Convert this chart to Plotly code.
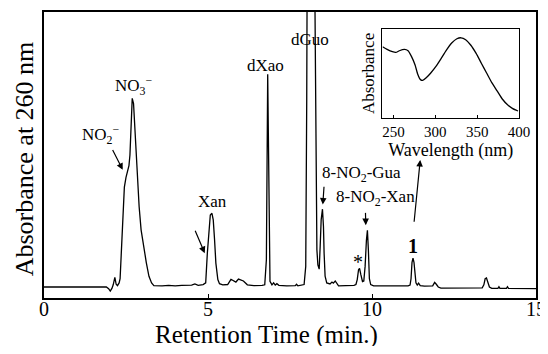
import plotly.graph_objects as go

# ---- main chromatogram (retention time in min, absorbance at 260 nm, arbitrary units) ----
rt_min = [0.00, 1.90, 1.97, 2.02, 2.07, 2.11, 2.16, 2.20, 2.24, 2.29, 2.32, 2.36, 2.39, 2.42,
          2.45, 2.50, 2.55, 2.59, 2.62, 2.64, 2.67, 2.69, 2.73, 2.76, 2.80, 2.85, 2.90, 2.96,
          3.03, 3.12, 3.20, 3.28, 3.35, 3.60, 3.80, 4.00, 4.20, 4.50, 4.60, 4.70, 4.85, 4.93,
          4.98, 5.03, 5.07, 5.12, 5.16, 5.20, 5.24, 5.30, 5.35, 5.45, 5.60, 5.70, 5.77, 5.85,
          5.93, 6.00, 6.08, 6.20, 6.40, 6.65, 6.73, 6.78, 6.80, 6.82, 6.84, 6.86, 6.89, 6.95,
          7.00, 7.05, 7.10, 7.16, 7.40, 7.66, 7.70, 7.74, 7.88, 7.93, 7.98, 8.00, 8.01, 8.02,
          8.14, 8.26, 8.28, 8.30, 8.32, 8.35, 8.39, 8.42, 8.45, 8.49, 8.52, 8.54, 8.57, 8.62,
          8.72, 8.78, 8.82, 8.88, 8.92, 8.98, 9.20, 9.45, 9.51, 9.55, 9.59, 9.62, 9.66, 9.71,
          9.75, 9.79, 9.83, 9.86, 9.89, 9.92, 9.96, 10.05, 10.50, 11.10, 11.16, 11.19, 11.22,
          11.25, 11.28, 11.31, 11.34, 11.38, 11.42, 11.47, 11.60, 11.85, 11.91, 11.96, 12.02,
          12.10, 13.00, 13.36, 13.41, 13.45, 13.49, 13.53, 13.58, 13.65, 13.84, 13.87, 13.90,
          14.10, 14.13, 14.16, 15.00]
abs_260 = [0, 0, -0.6, -1.5, -0.5, 0.8, 3.5, 1.0, 0.5, 1.5, 3.0, 12, 20, 30,
           36.3, 39.9, 42, 44.1, 48, 53.2, 64.3, 68.6, 66.7, 60, 53.4, 41.3, 29.3, 20.8,
           14.8, 8.8, 3.9, 1.5, 0.5, 0.4, 0.6, 0.4, 0.6, 0.7, 1.1, 0.6, 0.9, 1.5,
           12.3, 22, 26.2, 26.8, 24.4, 17.2, 8.7, 2.7, 1.2, 0.8, 0.9, 2.8, 2.2, 1.8,
           2.9, 2.6, 2.2, 0.8, 0.5, 0.6, 0.8, 9.9, 43.8, 77.4, 55.9, 19.6, 2.1, 0.8,
           1.5, 0.7, 1.2, 0.6, 0.4, 0.5, 1.0, 0.4, 0.6, 0.9, 7.5, 31.7, 68, 104,
           180, 104, 68, 31.7, 13.5, 8.0, 6.5, 14.8, 24.4, 28.3, 22, 12.3, 3.9, 1.5,
           1.1, 1.8, 1.4, 2.2, 1.3, 0.4, 0.5, 0.6, 0.9, 2.7, 6.3, 6.8, 4.5, 2.0,
           2.2, 7.5, 17, 20.6, 13.4, 3.0, 0.9, 0.4, 0.4, 0.4, 0.7, 3, 9,
           10.5, 9, 4, 1.5, 0.7, 1.4, 0.5, 0.3, 0.4, 1.7, 1.0, 0,
           -0.4, -0.4, -0.3, 0.8, 3.0, 3.3, 1.5, 0, -0.5, -0.5, 0.1, -0.5,
           -0.5, 0.1, -0.5, -0.6]

x_ticks = [0, 5, 10, 15]
x_tick_labels = ["0", "5", "10", "15"]
x_title = "Retention Time (min.)"
y_title = "Absorbance at 260 nm"

# ---- inset UV spectrum of peak 1 ----
inset_nm = [237.1, 242.5, 248.8, 252.9, 257.1, 263.3, 267.5, 271.7, 275.8, 279.2, 282.1,
            285.0, 289.2, 294.6, 300.8, 307.1, 313.3, 319.6, 325.8, 330.8, 336.3, 342.5,
            348.8, 355.0, 361.3, 367.5, 373.8, 380.0, 386.3, 392.5, 398.8]
inset_abs = [0.800, 0.770, 0.744, 0.736, 0.755, 0.770, 0.755, 0.689, 0.597, 0.487, 0.432,
             0.421, 0.451, 0.505, 0.579, 0.670, 0.762, 0.842, 0.890, 0.901, 0.879, 0.817,
             0.725, 0.615, 0.505, 0.396, 0.304, 0.212, 0.147, 0.103, 0.077]
inset_ticks = [250, 300, 350, 400]

# ---- peak labels ----
label_text = ["NO<sub>2</sub><sup>\u2212</sup>", "NO<sub>3</sub><sup>\u2212</sup>", "Xan", "dXao",
              "dGuo", "8-NO<sub>2</sub>-Gua", "8-NO<sub>2</sub>-Xan", "*", "<b>1</b>"]
label_t = [1.73, 2.74, 5.14, 6.76, 8.10, 8.40, 8.84, 9.58, 11.26]
label_v = [55.3, 73.4, 31.0, 80.4, 90.0, 41.2, 32.5, 9.0, 14.8]
label_anchor = ["center", "center", "center", "center", "center", "left", "left", "center", "center"]

# arrows: (tail t, tail v) -> (tip t, tip v)
arrow_tail_t = [2.07, 4.59, 8.54, 9.80, 11.28]
arrow_tail_v = [50.4, 21.0, 37.0, 27.5, 23.2]
arrow_tip_t = [2.40, 4.90, 8.50, 9.81, 11.47]
arrow_tip_v = [42.6, 12.3, 30.0, 22.5, 46.2]

FONT = "Liberation Serif, Times New Roman, serif"

fig = go.Figure()
fig.add_trace(go.Scatter(x=rt_min, y=abs_260, mode="lines",
                         line=dict(color="black", width=1.3), showlegend=False,
                         xaxis="x", yaxis="y"))
fig.add_trace(go.Scatter(x=inset_nm, y=inset_abs, mode="lines",
                         line=dict(color="black", width=1.3, shape="spline", smoothing=0.6),
                         showlegend=False, xaxis="x2", yaxis="y2"))

annotations = []
for txt, t, v, anc in zip(label_text, label_t, label_v, label_anchor):
    annotations.append(dict(x=t, y=v, xref="x", yref="y", text=txt, showarrow=False,
                            xanchor=anc, yanchor="middle",
                            font=dict(family=FONT, size=17 if txt not in ("*", "<b>1</b>") else 20,
                                      color="black")))
for tt, tv, ht, hv in zip(arrow_tail_t, arrow_tail_v, arrow_tip_t, arrow_tip_v):
    annotations.append(dict(x=ht, y=hv, xref="x", yref="y", ax=tt, ay=tv,
                            axref="x", ayref="y", text="", showarrow=True,
                            arrowhead=2, arrowsize=1.1, arrowwidth=1.2, arrowcolor="black",
                            standoff=0, startstandoff=0))
# axis titles (placed as text so that their position matches the original)
annotations.append(dict(x=0.452, y=-0.131, xref="paper", yref="paper", text=x_title,
                        showarrow=False, xanchor="center", yanchor="middle",
                        font=dict(family=FONT, size=25, color="black")))
annotations.append(dict(x=-0.040, y=0.486, xref="paper", yref="paper", text=y_title,
                        showarrow=False, xanchor="center", yanchor="middle", textangle=-90,
                        font=dict(family=FONT, size=26, color="black")))

fig.update_layout(
    width=540, height=338,
    margin=dict(l=36, r=12, t=4, b=48),
    paper_bgcolor="white", plot_bgcolor="white",
    font=dict(family=FONT, color="black"),
    annotations=annotations,
    xaxis=dict(range=[0, 15], tickvals=x_ticks, ticktext=x_tick_labels,
               ticks="inside", ticklen=4, tickwidth=1.2, tickcolor="black",
               ticklabelstandoff=-8,
               showline=True, linecolor="black", linewidth=1.5, mirror=True,
               showgrid=False, zeroline=False,
               tickfont=dict(family=FONT, size=20, color="black"),
               automargin=False),
    yaxis=dict(range=[-4, 100], showticklabels=False, ticks="",
               showline=True, linecolor="black", linewidth=1.5, mirror=True,
               showgrid=False, zeroline=False, automargin=False),
    xaxis2=dict(domain=[0.688, 0.9655], anchor="y2", range=[237, 400],
                tickvals=inset_ticks, ticks="inside", ticklen=3, tickcolor="black",
                showline=True, linecolor="black", linewidth=1.3, mirror=True,
                showgrid=False, zeroline=False, automargin=False,
                tickfont=dict(family=FONT, size=15, color="black"),
                title=dict(text="Wavelength (nm)", standoff=0,
                           font=dict(family=FONT, size=18, color="black"))),
    yaxis2=dict(domain=[0.63, 0.9406], anchor="x2", range=[0, 1],
                showticklabels=False, ticks="", automargin=False,
                showline=True, linecolor="black", linewidth=1.3, mirror=True,
                showgrid=False, zeroline=False,
                title=dict(text="Absorbance", standoff=2,
                           font=dict(family=FONT, size=17, color="black"))),
)

fig.write_html("out.html")
